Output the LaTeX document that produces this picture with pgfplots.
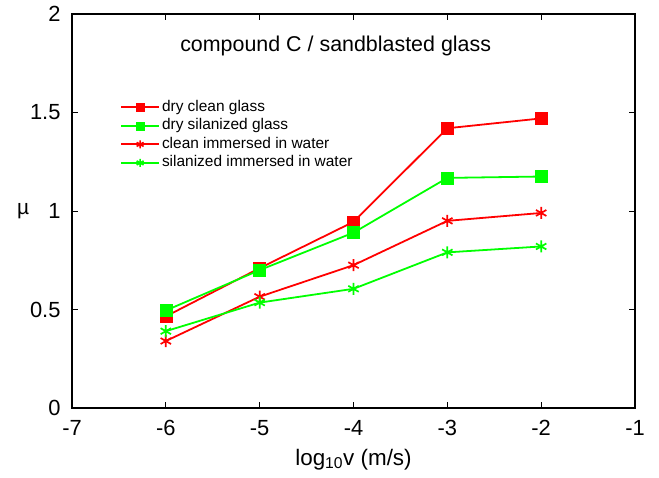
\documentclass[border=0pt]{standalone}
\usepackage{fontspec}
\setmainfont{Liberation Sans}
\usepackage{pgfplots}
\pgfplotsset{compat=1.18}
\begin{document}
\begin{tikzpicture}
\begin{axis}[
    scale only axis,
    width=563bp, height=394bp,
    xmin=-7, xmax=-1, ymin=0, ymax=2,
    xtick={-7,-6,...,-1},
    ytick={0,0.5,1,1.5,2},
    tick align=inside,
    major tick length=6bp,
    axis line style={line width=1.5pt},
    tick style={black, line width=1pt},
    /pgf/number format/assume math mode=true,
    ticklabel style={font=\fontsize{22}{26}\selectfont},
    yticklabel style={xshift=-8bp},
    xticklabel style={yshift=-9bp},
    xlabel={log\textsubscript{10}v (m/s)},
    ylabel={\textmu},
    xlabel style={font=\fontsize{22.5}{26}\selectfont, yshift=-6bp},
    ylabel style={font=\fontsize{21}{24}\selectfont, rotate=-90, xshift=6bp},
    legend style={draw=none, fill=none, at={(0.08,0.792)}, anchor=north west,
        font=\fontsize{15.5}{18}\selectfont, row sep=0bp,
        nodes={text height=11bp, text depth=3.5bp, inner sep=2bp},
        /tikz/every even column/.append style={column sep=8bp}},
    legend cell align=left,
    legend image code/.code={
        \draw[mark repeat=2, mark phase=2, #1] plot coordinates {(0bp,0bp) (19bp,0bp) (38bp,0bp)};
    },
    legend image post style={mark size=4bp},
    every axis plot/.append style={line width=1.8pt},
]
\addplot[red, mark=square*, mark size=6bp, mark options={line width=0.5pt}] coordinates {(-6,0.465) (-5,0.71) (-4,0.945) (-3,1.42) (-2,1.47)};
\addlegendentry{dry clean glass}
\addplot[green, mark=square*, mark size=6bp, mark options={line width=0.5pt}] coordinates {(-6,0.495) (-5,0.70) (-4,0.89) (-3,1.168) (-2,1.175)};
\addlegendentry{dry silanized glass}
\addplot[red, mark=asterisk, mark size=6bp, mark options={line width=1.7pt}] coordinates {(-6,0.34) (-5,0.565) (-4,0.725) (-3,0.95) (-2,0.99)};
\addlegendentry{clean immersed in water}
\addplot[green, mark=asterisk, mark size=6bp, mark options={line width=1.7pt}] coordinates {(-6,0.39) (-5,0.535) (-4,0.605) (-3,0.79) (-2,0.82)};
\addlegendentry{silanized immersed in water}
\node[font=\fontsize{21.5}{25}\selectfont] at (axis cs:-4.19,1.84) {compound C / sandblasted glass};
\end{axis}
\pgfresetboundingbox
\path ([shift={(-72bp,-70bp)}]current axis.south west) rectangle ([shift={(24bp,14bp)}]current axis.north east);
\end{tikzpicture}
\end{document}
